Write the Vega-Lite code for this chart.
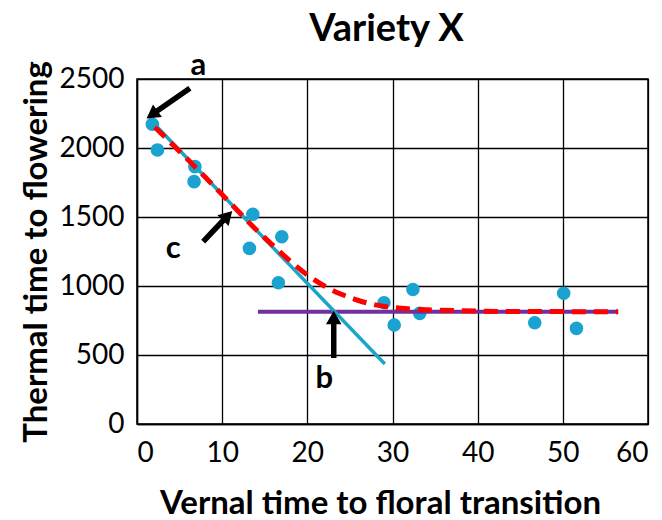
{
  "$schema": "https://vega.github.io/schema/vega-lite/v6.json",
  "width": 511,
  "height": 345,
  "autosize": "none",
  "padding": {"left": 137, "top": 79, "right": 14, "bottom": 96},
  "background": "white",
  "config": {
    "font": "Lato",
    "view": {"stroke": "black", "strokeWidth": 1.5},
    "axis": {
      "grid": true,
      "gridColor": "black",
      "gridOpacity": 1,
      "gridWidth": 1.3,
      "domainColor": "black",
      "domainWidth": 1.5,
      "ticks": false,
      "labelFont": "Lato",
      "labelFontSize": 28,
      "labelColor": "black",
      "titleFont": "Lato",
      "titleFontSize": 33,
      "titleFontWeight": "bold",
      "titleColor": "black"
    }
  },
  "title": {
    "text": "Variety X",
    "font": "Lato",
    "fontSize": 38,
    "fontWeight": "bold",
    "color": "black",
    "anchor": "middle",
    "frame": "group",
    "baseline": "alphabetic",
    "offset": -29,
    "dx": -6
  },
  "encoding": {
    "x": {
      "field": "x",
      "type": "quantitative",
      "scale": {"domain": [0, 60], "nice": false, "zero": false},
      "axis": {
        "title": "Vernal time to floral transition",
        "values": [0, 10, 20, 30, 40, 50, 60],
        "format": "d",
        "labelPadding": 15,
        "titlePadding": 20,
        "titleX": 243
      }
    },
    "y": {
      "field": "y",
      "type": "quantitative",
      "scale": {"domain": [0, 2500], "nice": false, "zero": false},
      "axis": {
        "title": "Thermal time to flowering",
        "values": [0, 500, 1000, 1500, 2000, 2500],
        "format": "d",
        "labelPadding": 13,
        "titlePadding": 6
      }
    }
  },
  "layer": [
    {
      "data": {"values": [
        {"x": 1.8, "y": 2172}, {"x": 2.4, "y": 1986}, {"x": 6.8, "y": 1865},
        {"x": 6.7, "y": 1756}, {"x": 13.6, "y": 1520}, {"x": 13.2, "y": 1273},
        {"x": 17.0, "y": 1357}, {"x": 16.6, "y": 1024}, {"x": 32.4, "y": 975},
        {"x": 29.0, "y": 879}, {"x": 30.2, "y": 717}, {"x": 33.2, "y": 802},
        {"x": 46.7, "y": 734}, {"x": 50.1, "y": 947}, {"x": 51.6, "y": 693}
      ]},
      "mark": {"type": "circle", "size": 185, "color": "#1AA3D0", "opacity": 1}
    },
    {
      "data": {"values": [{"x": 14.2, "y": 814}, {"x": 56.5, "y": 814}]},
      "mark": {"type": "line", "color": "#7030A0", "strokeWidth": 4}
    },
    {
      "data": {"values": [{"x": 1.5, "y": 2208}, {"x": 29.1, "y": 435}]},
      "mark": {"type": "line", "color": "#1BA6C9", "strokeWidth": 3.5}
    },
    {
      "data": {"values": [
        {"x": 2.1, "y": 2150}, {"x": 5, "y": 1975}, {"x": 8, "y": 1790},
        {"x": 11, "y": 1598}, {"x": 14, "y": 1408}, {"x": 16, "y": 1292},
        {"x": 18, "y": 1180}, {"x": 20, "y": 1080}, {"x": 22, "y": 1000},
        {"x": 24, "y": 940}, {"x": 26, "y": 895}, {"x": 28, "y": 863},
        {"x": 31, "y": 838}, {"x": 35, "y": 826}, {"x": 40, "y": 818},
        {"x": 45, "y": 815}, {"x": 56.5, "y": 814}
      ]},
      "mark": {"type": "line", "color": "#FF0000", "strokeWidth": 5, "strokeDash": [14, 8], "interpolate": "monotone"}
    },
    {
      "data": {"values": [
        {"x": 6.21, "y": 2433, "x2": 1.76, "y2": 2242},
        {"x": 7.77, "y": 1321, "x2": 10.64, "y2": 1509},
        {"x": 23.1, "y": 478, "x2": 23.1, "y2": 772}
      ]},
      "mark": {"type": "rule", "color": "black", "strokeWidth": 5.5},
      "encoding": {
        "x2": {"field": "x2"},
        "y2": {"field": "y2"}
      }
    },
    {
      "data": {"values": [
        {"x": 1.76, "y": 2242, "angle": 235},
        {"x": 10.64, "y": 1509, "angle": 43.4},
        {"x": 23.1, "y": 772, "angle": 0}
      ]},
      "mark": {"type": "point", "shape": "triangle-up", "filled": true, "size": 240, "color": "black", "opacity": 1},
      "encoding": {
        "angle": {"field": "angle", "type": "quantitative", "scale": null}
      }
    },
    {
      "data": {"values": [
        {"x": 7.19, "y": 2529, "label": "a"},
        {"x": 22.0, "y": 258, "label": "b"},
        {"x": 4.26, "y": 1201, "label": "c"}
      ]},
      "mark": {"type": "text", "font": "Lato", "fontSize": 31, "fontWeight": "bold", "align": "center", "baseline": "alphabetic", "color": "black"},
      "encoding": {
        "text": {"field": "label"}
      }
    }
  ]
}
